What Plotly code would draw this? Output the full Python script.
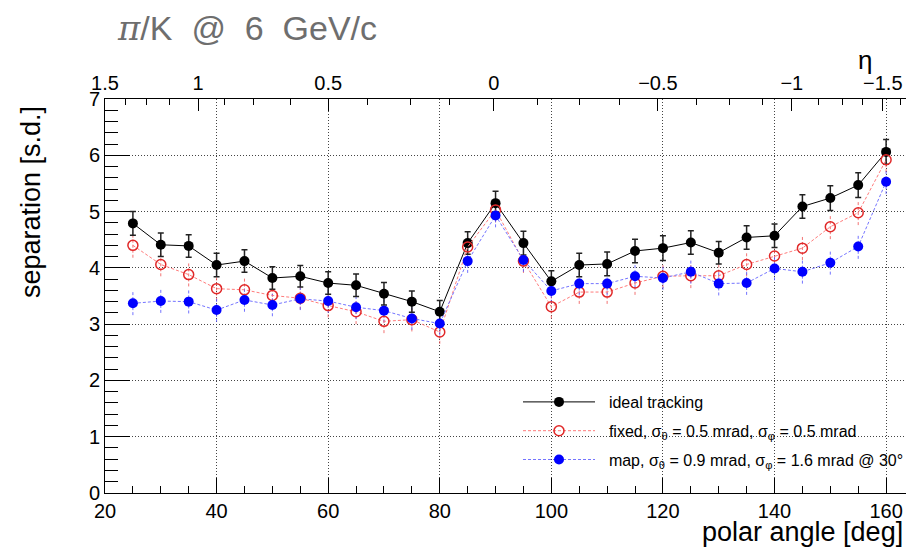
import plotly.graph_objects as go

# ---------------- data ----------------
theta = [25, 30, 35, 40, 45, 50, 55, 60, 65, 70, 75, 80, 85, 90,
         95, 100, 105, 110, 115, 120, 125, 130, 135, 140, 145, 150, 155, 160]

ideal = [4.79, 4.41, 4.39, 4.05, 4.12, 3.82, 3.85, 3.73, 3.69, 3.54, 3.40, 3.22, 4.44, 5.15,
         4.44, 3.76, 4.05, 4.07, 4.30, 4.35, 4.45, 4.27, 4.54, 4.57, 5.09, 5.24, 5.47, 6.06]
ideal_err = [0.21, 0.21, 0.20, 0.21, 0.20, 0.20, 0.19, 0.20, 0.20, 0.20, 0.19, 0.20, 0.20, 0.21,
             0.21, 0.19, 0.21, 0.21, 0.21, 0.22, 0.21, 0.20, 0.21, 0.21, 0.21, 0.22, 0.22, 0.22]

fixed = [4.40, 4.06, 3.88, 3.63, 3.61, 3.51, 3.46, 3.33, 3.22, 3.05, 3.08, 2.86, 4.37, 5.03,
         4.12, 3.31, 3.57, 3.57, 3.73, 3.85, 3.86, 3.86, 4.06, 4.21, 4.35, 4.73, 4.98, 5.92]
fixed_err = [0.22, 0.21, 0.21, 0.21, 0.21, 0.20, 0.20, 0.21, 0.22, 0.21, 0.21, 0.21, 0.21, 0.22,
             0.21, 0.21, 0.21, 0.21, 0.21, 0.21, 0.22, 0.21, 0.21, 0.22, 0.21, 0.22, 0.22, 0.22]

mapped = [3.37, 3.41, 3.40, 3.25, 3.43, 3.34, 3.45, 3.41, 3.30, 3.24, 3.10, 3.01, 4.12, 4.93,
          4.14, 3.59, 3.72, 3.72, 3.85, 3.82, 3.93, 3.72, 3.73, 3.99, 3.93, 4.09, 4.38, 5.53]
mapped_err = [0.21, 0.21, 0.21, 0.21, 0.21, 0.20, 0.20, 0.21, 0.21, 0.21, 0.20, 0.21, 0.21, 0.21,
              0.21, 0.21, 0.21, 0.21, 0.21, 0.21, 0.21, 0.21, 0.21, 0.21, 0.21, 0.21, 0.22, 0.22]

# top (eta) axis tick labels and where they sit on the polar-angle scale
eta_labels = ["1.5", "1", "0.5", "0", "\u22120.5", "\u22121", "\u22121.5"]
eta_label_theta = [20.0, 36.7, 60.0, 89.7, 119.1, 143.1, 159.4]
eta_minor_theta = [23.6, 27.5, 31.6, 41.5, 46.7, 53.2, 67.1, 74.7, 81.8,
                   97.6, 105.1, 112.3, 126.1, 132.0, 137.9, 147.8, 152.1, 155.8, 162.5]

names = ["\u00a0\u00a0ideal tracking",
         "\u00a0\u00a0fixed, \u03c3<sub>\u03b8</sub> = 0.5 mrad, \u03c3<sub>\u03c6</sub> = 0.5 mrad",
         "\u00a0\u00a0map, \u03c3<sub>\u03b8</sub> = 0.9 mrad, \u03c3<sub>\u03c6</sub> = 1.6 mrad @ 30\u00b0"]

FONT = "Liberation Sans, Arial, sans-serif"

# the page body has an 8px default margin, so the figure is 8px smaller
W, H = 906, 540
L, T, B = 97, 91, 55
PW, PH = W - L, H - T - B      # plot area size in px


def px_x(p):   # page pixel -> paper x
    return (p - 8 - L) / PW


def px_y(p):   # page pixel -> paper y
    return (H - B - (p - 8)) / PH


def err_segments(xs, ys, es):
    sx, sy = [], []
    for x, y, e in zip(xs, ys, es):
        sx += [x, x, None]
        sy += [y - e, y + e, None]
    return sx, sy


fig = go.Figure()

# dashed error bars for the red / blue series
for vals, errs, col in [(fixed, fixed_err, "rgba(240,90,90,0.85)"),
                        (mapped, mapped_err, "rgba(90,90,255,0.85)")]:
    ex, ey = err_segments(theta, vals, errs)
    fig.add_trace(go.Scatter(x=ex, y=ey, mode="lines", showlegend=False, hoverinfo="skip",
                             line=dict(color=col, width=1, dash="3px,2px")))

fig.add_trace(go.Scatter(
    x=theta, y=ideal, name=names[0], mode="lines+markers", legendgroup="a",
    line=dict(color="black", width=1),
    marker=dict(symbol="circle", size=10, color="black"),
    error_y=dict(type="data", array=ideal_err, color="#222", thickness=1.5, width=3),
))
fig.add_trace(go.Scatter(
    x=theta, y=fixed, name=names[1], mode="lines+markers", legendgroup="b",
    line=dict(color="#ff7b7b", width=1, dash="3px,2px"),
    marker=dict(symbol="circle-open", size=10, color="#e02828", line=dict(width=1.5, color="#e02828")),
))
fig.add_trace(go.Scatter(
    x=theta, y=mapped, name=names[2], mode="lines+markers", legendgroup="c",
    xaxis="x2",
    line=dict(color="#7474ff", width=1, dash="3px,2px"),
    marker=dict(symbol="circle", size=10, color="#0000ff"),
))

grid = dict(showgrid=True, gridcolor="#444", gridwidth=1, griddash="1px,2px")

fig.update_layout(
    width=W, height=H,
    margin=dict(l=L, r=0, t=T, b=B, autoexpand=False),
    paper_bgcolor="white", plot_bgcolor="white",
    font=dict(family=FONT, color="black", size=20),
    showlegend=True,
    legend=dict(x=px_x(518), y=px_y(385), xanchor="left", yanchor="top",
                bgcolor="rgba(0,0,0,0)", borderwidth=0, font=dict(size=16, family=FONT),
                itemwidth=72, tracegroupgap=5, itemclick=False),
    xaxis=dict(range=[20, 165], tickmode="linear", tick0=20, dtick=20, automargin=False,
               ticks="inside", ticklen=15, tickwidth=1, tickcolor="black",
               minor=dict(dtick=5, tick0=20, ticks="inside", ticklen=7, tickcolor="black", showgrid=False),
               showline=True, linecolor="black", linewidth=1, zeroline=False,
               tickfont=dict(size=20)
               , **grid),
    xaxis2=dict(range=[20, 165], overlaying="x", side="top", anchor="y", automargin=False,
                tickmode="array", tickvals=eta_label_theta, ticktext=eta_labels,
                ticks="inside", ticklen=12, tickwidth=1, tickcolor="black",
                minor=dict(tickmode="array", tickvals=eta_minor_theta, ticks="inside",
                           ticklen=6, tickcolor="black", showgrid=False),
                showline=True, linecolor="black", linewidth=1, showgrid=False, zeroline=False,
                tickfont=dict(size=20)),
    yaxis=dict(range=[0, 7], tickmode="linear", tick0=0, dtick=1, automargin=False,
               ticks="inside", ticklen=25, tickwidth=1, tickcolor="black",
               minor=dict(dtick=0.2, ticks="inside", ticklen=13, tickcolor="black", showgrid=False),
               showline=True, linecolor="black", linewidth=1, zeroline=False,
               tickfont=dict(size=20), **grid),
    annotations=[
        dict(text="<span style=\"font-family:'DejaVu Serif'\"><i>\u03c0</i></span>/K\u00a0 @\u00a0 6\u00a0 GeV/c",
             xref="paper", yref="paper", x=px_x(115), y=px_y(28),
             xanchor="left", yanchor="middle", showarrow=False,
             font=dict(size=34, color="#6e6e6e", family=FONT)),
        dict(text="\u03b7", xref="paper", yref="paper", x=px_x(865), y=px_y(60),
             xanchor="center", yanchor="middle", showarrow=False, font=dict(size=26, family=FONT)),
        dict(text="separation [s.d.]", xref="paper", yref="paper", x=px_x(31),
             y=px_y(202), xanchor="center", yanchor="middle", textangle=-90,
             showarrow=False, font=dict(size=27, family=FONT)),
        dict(text="polar angle [deg]", xref="paper", yref="paper", x=px_x(905),
             y=px_y(532), xanchor="right", yanchor="middle",
             showarrow=False, font=dict(size=27, family=FONT)),
    ],
)

fig.write_html("out.html")
